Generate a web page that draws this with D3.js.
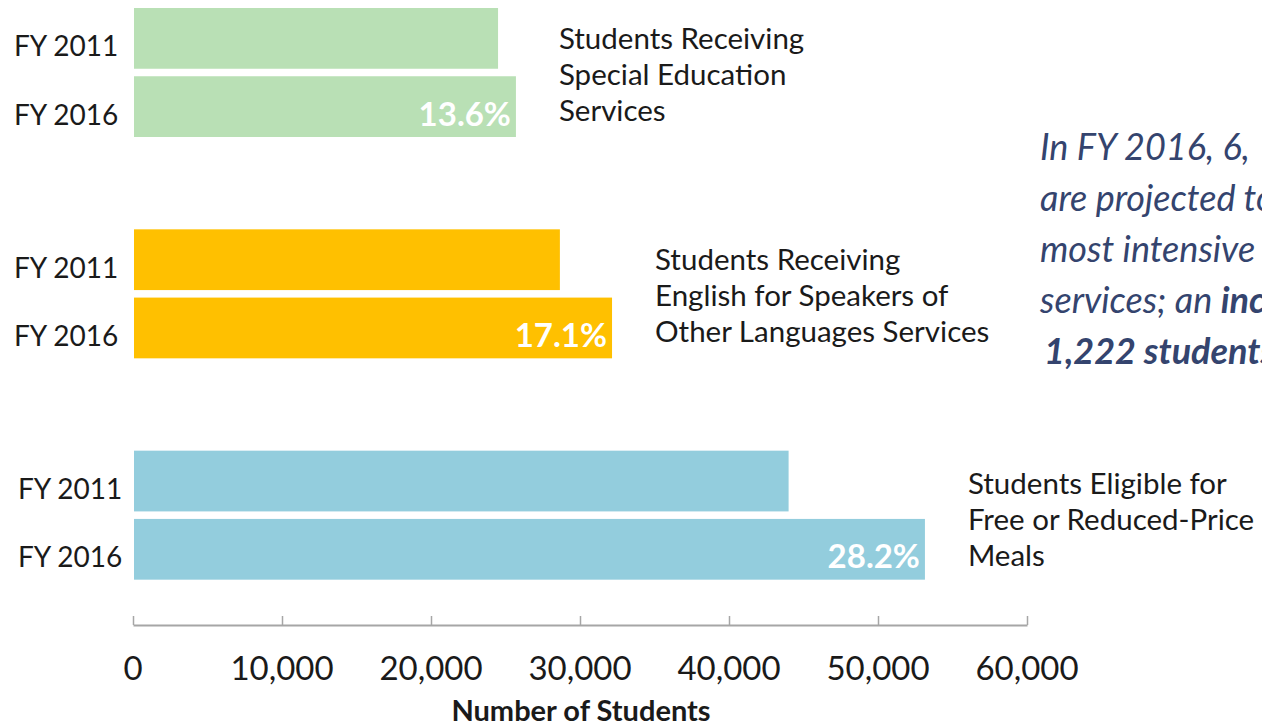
<!DOCTYPE html>
<html>
<head>
<meta charset="utf-8">
<script src="https://cdn.jsdelivr.net/npm/d3@7"></script>
<style>
  body { margin: 0; background: #fff; }
  svg { display: block; }
  text { font-family: Lato, "Open Sans", sans-serif; }
</style>
</head>
<body>
<div id="chart"></div>
<script>
'use strict';

var groups = ["Special Education", "ESOL", "FARMS"];
var years = ["FY 2011", "FY 2016"];
var values2011 = [24500, 28650, 44000];
var values2016 = [25700, 32150, 53150];
var pctLabels = ["13.6%", "17.1%", "28.2%"];
var groupLabels = [
  ["Students Receiving", "Special Education", "Services"],
  ["Students Receiving", "English for Speakers of", "Other Languages Services"],
  ["Students Eligible for", "Free or Reduced-Price", "Meals"]
];
var groupColors = ["#b9e0b5", "#ffc000", "#93cddd"];
var tickValues = [0, 10000, 20000, 30000, 40000, 50000, 60000];
var noteLines = [
  [{ t: "In FY 2016, 6,", b: false }],
  [{ t: "are projected to", b: false }],
  [{ t: "most intensive", b: false }],
  [{ t: "services; an ", b: false }, { t: "increase of", b: true }],
  [{ t: "1,222 students", b: true }]
];

var width = 1262, height = 727;

var svg = d3.select("#chart").append("svg")
  .attr("width", width)
  .attr("height", height);

var x = d3.scaleLinear().domain([0, 60000]).range([133, 1027]);

// group bands, each group holds two bars
var groupY = d3.scaleBand().domain(groups).range([8, 672]).paddingInner(0).paddingOuter(0);
var barY = d3.scaleBand().domain(years).range([0, 129]).paddingInner(0.11);

var g = svg.selectAll("g.group")
  .data(groups)
  .enter().append("g")
  .attr("class", "group")
  .attr("transform", function (d) { return "translate(0," + groupY(d) + ")"; });

g.each(function (d, i) {
  var sel = d3.select(this);
  var vals = [values2011[i], values2016[i]];

  sel.selectAll("rect")
    .data(years)
    .enter().append("rect")
    .attr("x", x(0) + 1)
    .attr("y", function (yr) { return barY(yr); })
    .attr("width", function (yr, j) { return x(vals[j]) - x(0) - 1; })
    .attr("height", barY.bandwidth())
    .attr("fill", groupColors[i]);

  sel.selectAll("text.yr")
    .data(years)
    .enter().append("text")
    .attr("class", "yr")
    .attr("x", i === 2 ? 18 : 14)
    .attr("y", function (yr) { return barY(yr) + barY.bandwidth() / 2 + 18; })
    .attr("font-size", 28)
    .attr("fill", "#1a1a1a")
    .text(function (yr) { return yr; });

  sel.append("text")
    .attr("x", x(vals[1]) - 5)
    .attr("y", barY(years[1]) + barY.bandwidth() / 2 + 19)
    .attr("text-anchor", "end")
    .attr("font-size", 33)
    .attr("font-weight", "bold")
    .attr("fill", "#fff")
    .text(pctLabels[i]);

  var labelX = x(vals[1]) + 43;
  sel.append("text")
    .attr("font-size", 29.5)
    .attr("fill", "#1a1a1a")
    .selectAll("tspan")
    .data(groupLabels[i])
    .enter().append("tspan")
    .attr("x", labelX)
    .attr("y", function (t, k) { return 41 + k * 36 + (i === 2 ? 2 : 0); })
    .text(function (t) { return t; });
});

// axis
var axis = d3.axisBottom(x).tickValues(tickValues).tickSize(0).tickFormat("");
var ax = svg.append("g").attr("transform", "translate(0,625)").call(axis);
ax.select(".domain").attr("stroke", "#a6a6a6").attr("stroke-width", 2);
ax.selectAll(".tick").append("line")
  .attr("y1", 0).attr("y2", -9)
  .attr("stroke", "#a6a6a6").attr("stroke-width", 1.5);

svg.selectAll("text.tick-label")
  .data(tickValues)
  .enter().append("text")
  .attr("class", "tick-label")
  .attr("x", function (d) { return x(d); })
  .attr("y", 680)
  .attr("text-anchor", "middle")
  .attr("font-size", 33)
  .attr("fill", "#1a1a1a")
  .text(function (d) { return d3.format(",")(d); });

svg.append("text")
  .attr("x", 581)
  .attr("y", 721)
  .attr("text-anchor", "middle")
  .attr("font-size", 29)
  .attr("font-weight", "bold")
  .attr("fill", "#1a1a1a")
  .text("Number of Students");

// side note, runs off the right edge as in the source slide
var note = svg.append("g");
noteLines.forEach(function (line, i) {
  var t = note.append("text")
    .attr("x", i === 4 ? 1044 : 1040)
    .attr("y", 160 + i * 51)
    .attr("font-size", 36)
    .attr("font-style", "italic")
    .attr("fill", "#34446e");
  line.forEach(function (part) {
    t.append("tspan")
      .attr("font-weight", part.b ? "bold" : "normal")
      .text(part.t);
  });
});
</script>
</body>
</html>
